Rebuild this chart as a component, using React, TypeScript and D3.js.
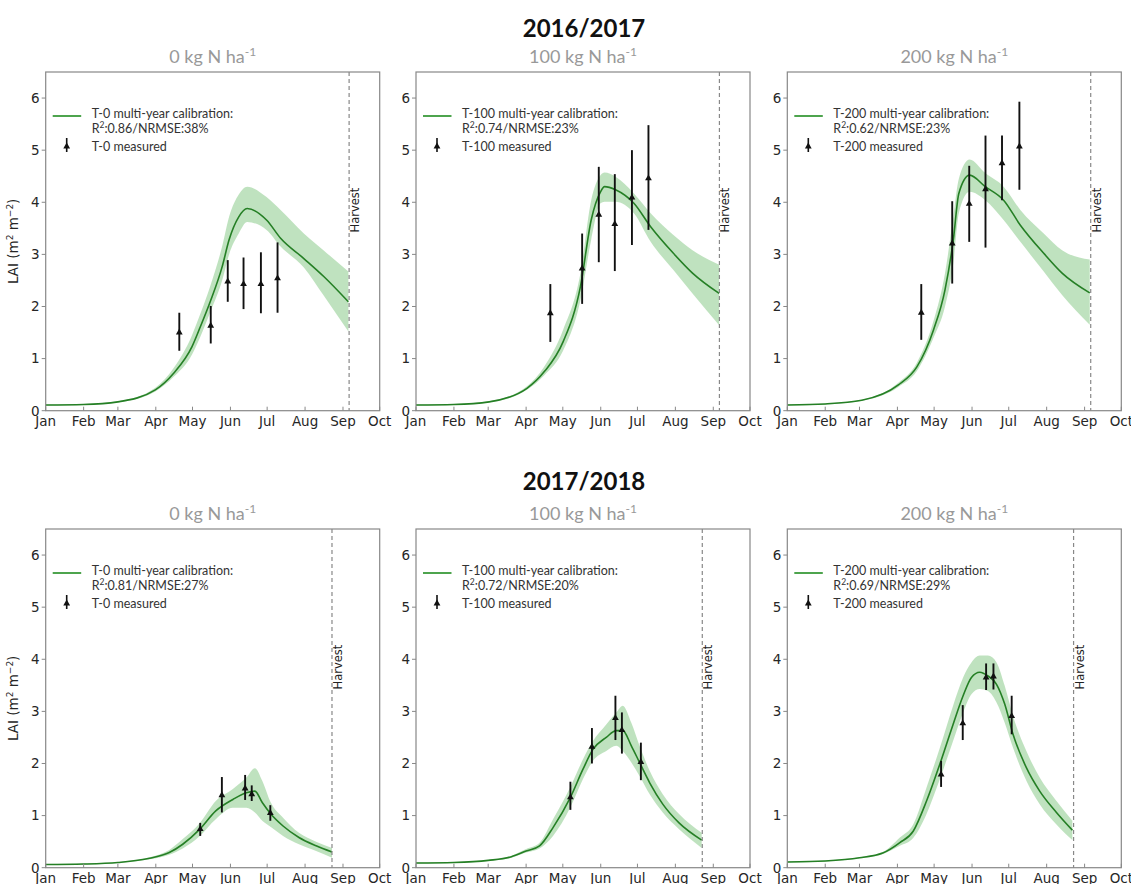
import * as d3 from 'd3'

// --- DATA ---
// simulated LAI: [day of year, mean, lower, upper]
type SimRow = [number, number, number, number]
// measured LAI: [day of year, mean, err low, err high]
type ObsRow = [number, number, number, number]

const seasons = ['2016/2017', '2017/2018']
const seasonYears = [2017, 2018]
const nRates = ['0', '100', '200']
const treatments = ['T-0', 'T-100', 'T-200']
const harvestDays = [248, 234]

const fitStats = [
  ['R:0.86/NRMSE:38%', 'R:0.74/NRMSE:23%', 'R:0.62/NRMSE:23%'],
  ['R:0.81/NRMSE:27%', 'R:0.72/NRMSE:20%', 'R:0.69/NRMSE:29%'],
]

const simT0y1: SimRow[] = [
  [0, 0.11, 0.1, 0.12], [31, 0.12, 0.11, 0.13], [59, 0.17, 0.16, 0.18],
  [89.6, 0.4, 0.37, 0.44], [104.6, 0.72, 0.65, 0.82], [119.6, 1.23, 1.08, 1.45],
  [126.4, 1.61, 1.42, 1.86], [134.6, 2.1, 1.9, 2.4], [144.2, 2.76, 2.5, 3.15],
  [149.9, 3.28, 3.0, 3.72], [157.8, 3.72, 3.4, 4.15], [164.7, 3.88, 3.62, 4.3],
  [180.5, 3.66, 3.47, 4.1], [192, 3.31, 3.15, 3.85], [211, 2.92, 2.75, 3.4],
  [227.5, 2.57, 2.2, 3.07], [247.4, 2.09, 1.52, 2.67],
]
const simT100y1: SimRow[] = [
  [0, 0.11, 0.1, 0.12], [31, 0.12, 0.11, 0.13], [59.8, 0.17, 0.16, 0.18],
  [90.7, 0.43, 0.4, 0.47], [104.9, 0.75, 0.68, 0.85], [120.2, 1.32, 1.15, 1.55],
  [134.4, 2.38, 2.12, 2.64], [143.2, 3.66, 3.28, 4.04], [150.8, 4.2, 3.98, 4.52],
  [154.1, 4.3, 4.01, 4.57], [163.1, 4.24, 4.01, 4.49], [178.1, 3.98, 3.79, 4.17],
  [191.8, 3.53, 3.24, 3.79], [210.4, 3.02, 2.7, 3.37], [226, 2.64, 2.25, 3.08],
  [247.8, 2.25, 1.64, 2.8],
]
const simT200y1: SimRow[] = [
  [0, 0.11, 0.1, 0.12], [31, 0.13, 0.12, 0.14], [60.9, 0.2, 0.19, 0.21],
  [90.5, 0.49, 0.45, 0.53], [105.9, 0.84, 0.76, 0.92], [119.5, 1.55, 1.4, 1.72],
  [128.9, 2.32, 2.0, 2.64], [135.7, 3.28, 2.83, 3.72], [140.2, 4.17, 3.79, 4.45],
  [149, 4.52, 4.2, 4.82], [161.8, 4.3, 4.04, 4.56], [176.8, 4.04, 3.66, 4.3],
  [190.5, 3.56, 3.24, 3.85], [209.6, 3.02, 2.67, 3.4], [224.6, 2.64, 2.22, 3.08],
  [247.2, 2.26, 1.65, 2.9],
]
const simT0y2: SimRow[] = [
  [0, 0.06, 0.05, 0.07], [31, 0.07, 0.06, 0.08], [59, 0.1, 0.09, 0.11],
  [85, 0.18, 0.16, 0.2], [101, 0.29, 0.25, 0.34], [112, 0.45, 0.37, 0.55],
  [126, 0.74, 0.61, 0.86], [139, 1.09, 0.93, 1.28], [153, 1.31, 1.15, 1.51],
  [164, 1.44, 1.15, 1.73], [171, 1.47, 1.06, 1.91], [177, 1.25, 0.9, 1.67],
  [184, 1.03, 0.78, 1.25], [194, 0.8, 0.61, 0.96], [207, 0.58, 0.45, 0.67],
  [221, 0.42, 0.32, 0.5], [234, 0.3, 0.19, 0.38],
]
const simT100y2: SimRow[] = [
  [0, 0.09, 0.08, 0.1], [31, 0.1, 0.09, 0.11], [59, 0.14, 0.13, 0.15],
  [78, 0.21, 0.19, 0.23], [90, 0.32, 0.29, 0.36], [101, 0.42, 0.37, 0.48],
  [112, 0.77, 0.61, 0.93], [126, 1.34, 1.15, 1.54], [136.5, 1.89, 1.7, 2.08],
  [144.6, 2.27, 2.05, 2.43], [155.5, 2.5, 2.24, 2.75], [163.7, 2.63, 2.34, 2.98],
  [169, 2.63, 2.24, 3.11], [176, 2.34, 2.02, 2.78], [182.7, 2.02, 1.76, 2.34],
  [191, 1.63, 1.41, 1.86], [201.7, 1.22, 1.06, 1.41], [215, 0.86, 0.74, 1.03],
  [233.5, 0.53, 0.38, 0.67],
]
const simT200y2: SimRow[] = [
  [0, 0.11, 0.1, 0.12], [31, 0.13, 0.12, 0.14], [59, 0.19, 0.18, 0.2],
  [78, 0.28, 0.26, 0.3], [92, 0.48, 0.42, 0.58], [102.9, 0.7, 0.57, 0.83],
  [113.8, 1.28, 1.03, 1.54], [124.7, 1.99, 1.7, 2.3], [135.5, 2.75, 2.43, 3.11],
  [143.7, 3.3, 2.98, 3.65], [150.5, 3.65, 3.33, 3.94], [157.3, 3.75, 3.43, 4.07],
  [164, 3.68, 3.39, 4.07], [171, 3.52, 3.17, 3.94], [177.7, 3.14, 2.78, 3.49],
  [184.5, 2.56, 2.3, 2.91], [195.4, 1.92, 1.67, 2.24], [206.3, 1.47, 1.22, 1.73],
  [220, 1.06, 0.83, 1.28], [233, 0.72, 0.53, 0.9],
]

const obsT0y1: ObsRow[] = [
  [109.2, 1.5, 1.15, 1.88], [134.9, 1.63, 1.29, 2.01], [148.8, 2.48, 2.09, 2.89],
  [161.7, 2.43, 1.95, 2.94], [175.9, 2.43, 1.87, 3.04], [189.5, 2.54, 1.88, 3.23],
]
const obsT100y1: ObsRow[] = [
  [109.8, 1.87, 1.32, 2.43], [135.8, 2.73, 2.05, 3.4], [149.4, 3.76, 2.85, 4.68],
  [162.5, 3.58, 2.68, 4.54], [176.5, 4.09, 3.18, 5.0], [190, 4.46, 3.47, 5.48],
]
const obsT200y1: ObsRow[] = [
  [109.5, 1.88, 1.36, 2.43], [134.8, 3.21, 2.44, 4.02], [148.7, 3.97, 3.24, 4.7],
  [162, 4.25, 3.13, 5.28], [175.5, 4.75, 4.04, 5.28], [189.7, 5.07, 4.24, 5.93],
]
const obsT0y2: ObsRow[] = [
  [126.3, 0.74, 0.61, 0.86], [144, 1.39, 1.06, 1.74], [163, 1.52, 1.3, 1.78],
  [168.4, 1.41, 1.28, 1.58], [183.6, 1.05, 0.9, 1.2],
]
const obsT100y2: ObsRow[] = [
  [126.2, 1.35, 1.11, 1.65], [143.8, 2.32, 2.0, 2.68], [163, 2.87, 2.45, 3.3],
  [168.3, 2.64, 2.19, 2.98], [183.8, 2.03, 1.68, 2.4],
]
const obsT200y2: ObsRow[] = [
  [125.7, 1.79, 1.55, 2.05], [143.4, 2.77, 2.45, 3.12], [162.5, 3.65, 3.41, 3.92],
  [168.5, 3.67, 3.42, 3.92], [183.4, 2.91, 2.56, 3.3],
]

const simGrid = [
  [simT0y1, simT100y1, simT200y1],
  [simT0y2, simT100y2, simT200y2],
]
const obsGrid = [
  [obsT0y1, obsT100y1, obsT200y1],
  [obsT0y2, obsT100y2, obsT200y2],
]

// --- LAYOUT ---
const WIDTH = 1131
const HEIGHT = 884
const panelLefts = [45.7, 416, 787.3]
const rowTops = [72, 529]
const PW = 334
const PH = 338.7

const GREEN = '#257f25'
const BAND = '#2ca02c'
const TICK_FONT = '"DejaVu Sans", sans-serif'
const NOTE_FONT = 'Lato, "Open Sans", sans-serif'

const dayToDate = (year: number, day: number) =>
  new Date(new Date(year, 0, 1).getTime() + day * 86400000)

function Panel({ row, col }: { row: number; col: number }) {
  const year = seasonYears[row]
  const sim = simGrid[row][col]
  const obs = obsGrid[row][col]

  const x = d3
    .scaleTime()
    .domain([new Date(year, 0, 1), new Date(year, 9, 1)])
    .range([0, PW])
  const y = d3.scaleLinear().domain([0, 6.5]).range([PH, 0])

  const months = d3.timeMonth.range(new Date(year, 0, 1), new Date(year, 9, 2))
  const fmt = d3.timeFormat('%b')

  const area = d3
    .area<SimRow>()
    .x((d) => x(dayToDate(year, d[0])))
    .y0((d) => y(d[2]))
    .y1((d) => y(d[3]))
    .curve(d3.curveMonotoneX)
  const line = d3
    .line<SimRow>()
    .x((d) => x(dayToDate(year, d[0])))
    .y((d) => y(d[1]))
    .curve(d3.curveMonotoneX)

  const tri = d3.symbol(d3.symbolTriangle, 20)()
  const hx = x(dayToDate(year, harvestDays[row]))
  const treat = treatments[col]
  const stat = fitStats[row][col]

  return (
    <g transform={`translate(${panelLefts[col]},${rowTops[row]})`}>
      {/* subtitle */}
      <text
        x={PW / 2}
        y={-9.5}
        textAnchor="middle"
        fontFamily={NOTE_FONT}
        fontSize={18}
        fill="#999"
      >
        {nRates[col]} kg N ha
        <tspan fontSize={12} dy={-7}>
          -1
        </tspan>
      </text>

      <path d={area(sim) || ''} fill={BAND} fillOpacity={0.3} />
      <path d={line(sim) || ''} fill="none" stroke={GREEN} strokeWidth={1.6} />

      {/* measured */}
      {obs.map((d, i) => (
        <g key={i}>
          <line
            x1={x(dayToDate(year, d[0]))}
            x2={x(dayToDate(year, d[0]))}
            y1={y(d[2])}
            y2={y(d[3])}
            stroke="#111"
            strokeWidth={1.9}
          />
          <path
            d={tri || ''}
            transform={`translate(${x(dayToDate(year, d[0]))},${y(d[1])})`}
            fill="#111"
          />
        </g>
      ))}

      {/* harvest */}
      <line x1={hx} x2={hx} y1={0} y2={PH} stroke="#888" strokeWidth={1.2} strokeDasharray="4,3" />
      <text
        transform={`translate(${hx + 10},${y(3.85)}) rotate(-90)`}
        textAnchor="middle"
        fontFamily={TICK_FONT}
        fontSize={11.5}
        fill="#222"
      >
        Harvest
      </text>

      {/* frame */}
      <rect x={0} y={0} width={PW} height={PH} fill="none" stroke="#888" strokeWidth={1.2} />

      {/* y axis */}
      {y.ticks(7).map((t) => (
        <g key={t} transform={`translate(0,${y(t)})`}>
          <line x1={-4} x2={0} stroke="#888" />
          <text
            x={-6}
            dy="0.36em"
            textAnchor="end"
            fontFamily={TICK_FONT}
            fontSize={13.5}
            fill="#262626"
          >
            {t}
          </text>
        </g>
      ))}

      {/* x axis */}
      {months.map((m) => (
        <g key={m.getTime()} transform={`translate(${x(m)},${PH})`}>
          <line y1={-4} y2={0} stroke="#888" />
          <text y={15.5} textAnchor="middle" fontFamily={TICK_FONT} fontSize={13.5} fill="#262626">
            {fmt(m)}
          </text>
        </g>
      ))}

      {/* legend */}
      <g fontFamily={NOTE_FONT} fontSize={12.5} fill="#333">
        <line x1={7} x2={35.5} y1={44} y2={44} stroke="#3a9a3a" strokeWidth={1.8} />
        <text x={46} y={46}>
          {treat} multi-year calibration:
        </text>
        <text x={46} y={60.5}>
          {stat.slice(0, 1)}
          <tspan fontSize={8.5} dy={-5}>
            2
          </tspan>
          <tspan dy={5}>{stat.slice(1)}</tspan>
        </text>
        <line x1={21} x2={21} y1={66} y2={80} stroke="#111" strokeWidth={1.6} />
        <path d={tri || ''} transform="translate(21,74.5)" fill="#111" />
        <text x={46} y={78.5}>
          {treat} measured
        </text>
      </g>

      {/* y label */}
      {col === 0 && (
        <text
          transform={`translate(${-27.5},${PH / 2}) rotate(-90)`}
          textAnchor="middle"
          fontFamily={TICK_FONT}
          fontSize={13.5}
          fill="#262626"
        >
          LAI (m
          <tspan fontSize={9} dy={-5}>
            2
          </tspan>
          <tspan dy={5}> m</tspan>
          <tspan fontSize={9} dy={-5}>
            −2
          </tspan>
          <tspan dy={5}>)</tspan>
        </text>
      )}
    </g>
  )
}

export default function App() {
  return (
    <>
      <style>{'body{margin:0;background:#fff}'}</style>
      <svg width={WIDTH} height={HEIGHT} style={{ display: 'block' }}>
        <rect width={WIDTH} height={HEIGHT} fill="#fff" />
        {seasons.map((s, r) => (
          <text
            key={s}
            x={584}
            y={r === 0 ? 37 : 490}
            textAnchor="middle"
            fontFamily={NOTE_FONT}
            fontWeight="bold"
            fontSize={24}
            fill="#111"
          >
            {s}
          </text>
        ))}
        {[0, 1].map((r) =>
          [0, 1, 2].map((c) => <Panel key={`${r}-${c}`} row={r} col={c} />),
        )}
      </svg>
    </>
  )
}
